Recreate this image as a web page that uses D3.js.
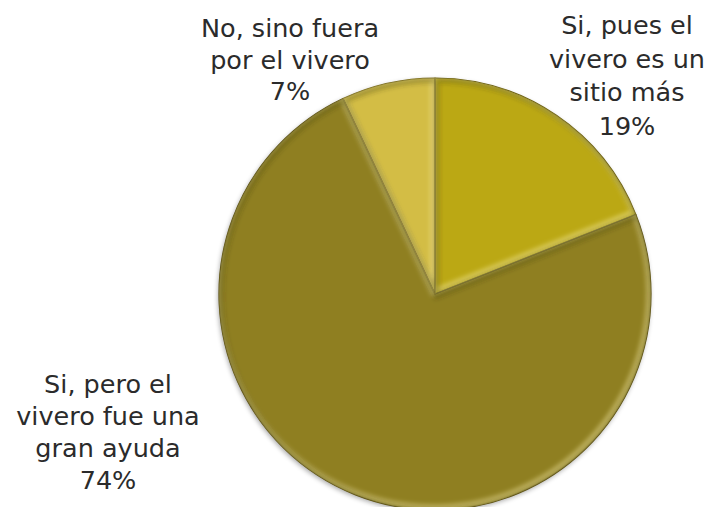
<!DOCTYPE html>
<html>
<head>
<meta charset="utf-8">
<script src="https://cdn.jsdelivr.net/npm/d3@7/dist/d3.min.js"></script>
<style>
  html, body { margin: 0; padding: 0; background: #ffffff; }
  svg { display: block; }
</style>
</head>
<body>
<svg id="chart" width="710" height="507"></svg>
<script>
// Survey answers, in drawing order (clockwise from 12 o'clock)
const categories = [
  "Si, pues el vivero es un sitio más",
  "Si, pero el vivero fue una gran ayuda",
  "No, sino fuera por el vivero"
];
const values = [19, 74, 7];
const labelLines = [
  ["Si, pues el", "vivero es un", "sitio más"],
  ["Si, pero el", "vivero fue una", "gran ayuda"],
  ["No, sino fuera", "por el vivero"]
];
const colors = ["#bba814", "#8f7f21", "#d3bd45"];
const edgeColors = ["#6f620c", "#5e5210", "#7d6d1c"];

const svg = d3.select("#chart");
const cx = 435, cy = 294, radius = 216;

const data = categories.map((c, i) => ({ category: c, value: values[i], i }));

const pie = d3.pie().value(d => d.value).sort(null);
const arc = d3.arc().innerRadius(0).outerRadius(radius);
const arcs = pie(data);

const defs = svg.append("defs");

// soft shadow under the pie
const shadow = defs.append("filter").attr("id", "shadow")
  .attr("x", "-10%").attr("y", "-10%").attr("width", "120%").attr("height", "120%");
shadow.append("feGaussianBlur").attr("in", "SourceAlpha").attr("stdDeviation", 2.5);
shadow.append("feOffset").attr("dx", -1).attr("dy", 2).attr("result", "off");
shadow.append("feComponentTransfer").append("feFuncA").attr("type", "linear").attr("slope", 0.35);

const soft = defs.append("filter").attr("id", "soft")
  .attr("x", "-10%").attr("y", "-10%").attr("width", "120%").attr("height", "120%");
soft.append("feGaussianBlur").attr("stdDeviation", 2.2);

arcs.forEach((a, k) => {
  defs.append("clipPath").attr("id", "clip" + k)
    .append("path").attr("d", arc(a)).attr("transform", `translate(${cx},${cy})`);
});

const g = svg.append("g").attr("transform", `translate(${cx},${cy})`);

// shadow layer
g.append("g").attr("filter", "url(#shadow)")
  .selectAll("path").data(arcs).join("path")
  .attr("d", arc).attr("fill", "#000");

// slice fills
g.selectAll("path.slice").data(arcs).join("path")
  .attr("class", "slice")
  .attr("d", arc)
  .attr("fill", d => colors[d.data.i]);

// bevel: a light inner rim and a darker lower rim, kept inside each slice
const bevel = svg.append("g");
arcs.forEach((a, k) => {
  const cg = bevel.append("g").attr("clip-path", `url(#clip${k})`);
  cg.append("path")
    .attr("transform", `translate(${cx - 1.5},${cy - 2})`)
    .attr("d", arc(a))
    .attr("fill", "none")
    .attr("stroke", "#fff6b0")
    .attr("stroke-opacity", 0.4)
    .attr("stroke-width", 7)
    .attr("filter", "url(#soft)");
  cg.append("path")
    .attr("transform", `translate(${cx + 1.5},${cy + 2})`)
    .attr("d", arc(a))
    .attr("fill", "none")
    .attr("stroke", "#3d3405")
    .attr("stroke-opacity", 0.3)
    .attr("stroke-width", 6)
    .attr("filter", "url(#soft)");
});

// thin slice outlines
g.append("g").selectAll("path").data(arcs).join("path")
  .attr("d", arc)
  .attr("fill", "none")
  .attr("stroke", d => edgeColors[d.data.i])
  .attr("stroke-width", 1.2)
  .attr("stroke-linejoin", "round");

// outside labels: category text lines followed by the percentage
const labelPos = [
  { x: 627, y: 34, lh: 33.5 },
  { x: 108, y: 393, lh: 32 },
  { x: 290, y: 37, lh: 31.5 }
];

arcs.forEach((a, k) => {
  const i = a.data.i;
  const lines = labelLines[i].concat([d3.format("d")(values[i]) + "%"]);
  const t = svg.append("text")
    .attr("x", labelPos[i].x)
    .attr("y", labelPos[i].y)
    .attr("text-anchor", "middle")
    .attr("font-family", "'DejaVu Sans', Verdana, sans-serif")
    .attr("font-size", 25.5)
    .attr("fill", "#2b2b2b");
  lines.forEach((ln, j) => {
    t.append("tspan")
      .attr("x", labelPos[i].x)
      .attr("dy", j === 0 ? 0 : labelPos[i].lh)
      .text(ln);
  });
});
</script>
</body>
</html>
